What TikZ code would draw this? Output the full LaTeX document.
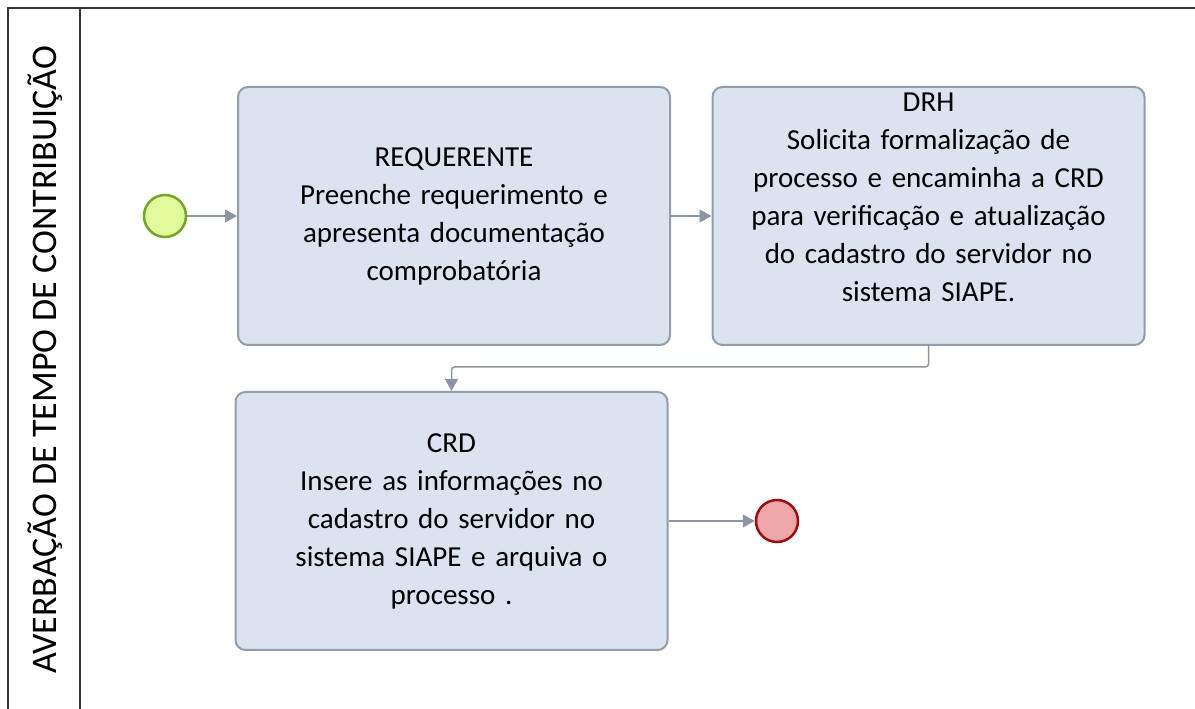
\documentclass[tikz,border=0pt]{standalone}
\usepackage{fontspec}
\setmainfont{Carlito}
\usetikzlibrary{arrows.meta}
\definecolor{caixa}{HTML}{DAE3EF}
\definecolor{borda}{HTML}{939DAA}
\definecolor{fluxo}{HTML}{8C96A3}
\definecolor{inicioF}{HTML}{E1FA9C}
\definecolor{inicioB}{HTML}{6DAA22}
\definecolor{fimF}{HTML}{EDA7A8}
\definecolor{fimB}{HTML}{A40A0A}
\tikzset{
  tarefa/.style={draw=borda, fill=caixa, line width=2pt, rounded corners=10pt,
    minimum width=432pt, minimum height=258pt, text width=425pt, align=center,
    font=\fontsize{29}{38}\selectfont},
  evento/.style={circle, minimum size=42pt, inner sep=0pt, line width=2.5pt},
  fluxo/.style={draw=fluxo, line width=1.5pt, -{Triangle[length=12pt,width=13pt]}}
}
\begin{document}
\begin{tikzpicture}[x=1pt, y=1pt]
  \useasboundingbox (0,0) rectangle (1195,709);
  % --- Raia ---
  \draw[line width=1.5pt, black!80] (1195,701) -- (8,701) -- (8,0);
  \draw[line width=1.5pt, black!80] (80,701) -- (80,0);
  \node[rotate=90, font=\fontsize{36}{42}\selectfont] (raia) at (45,349)
    {AVERBAÇÃO DE TEMPO DE CONTRIBUIÇÃO};

  % --- Eventos e tarefas ---
  \node[evento, draw=inicioB, fill=inicioF] (inicio) at (165,493) {};
  \node[tarefa] (req) at (454,493)
    {REQUERENTE\\Preenche requerimento e\\apresenta documentação\\comprobatória};
  \node[tarefa] (drh) at (928.5,493) {};
  \node[text width=425pt, align=center, font=\fontsize{29}{38}\selectfont] (drhtxt) at (928.5,512)
    {DRH\\Solicita formalização de\\processo e encaminha a CRD\\para verificação e atualização\\do cadastro do servidor no\\sistema SIAPE.};
  \node[tarefa] (crd) at (451.5,188)
    {CRD\\Insere as informações no\\cadastro do servidor no\\sistema SIAPE e arquiva o\\processo .};
  \node[evento, draw=fimB, fill=fimF] (fim) at (777,188) {};

  % --- Fluxos ---
  \draw[fluxo] (inicio) -- (req);
  \draw[fluxo] (req) -- (drh);
  \draw[fluxo, rounded corners=3pt] (drh.south) -- ++(0,-21) -| (crd.north);
  \draw[fluxo] (crd) -- (fim);
\end{tikzpicture}
\end{document}
